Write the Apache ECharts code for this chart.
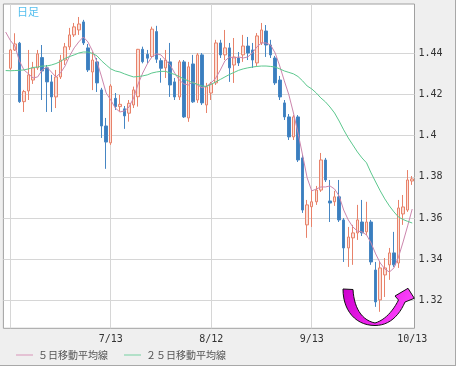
<!DOCTYPE html>
<html>
<head>
<meta charset="utf-8">
<script src="https://cdn.jsdelivr.net/npm/echarts@6/dist/echarts.min.js"></script>
<style>html,body{margin:0;padding:0;background:#fff;}#c{width:458px;height:370px;}</style>
</head>
<body>
<div id="c"></div>
<script>
const dates = ['6/10','6/13','6/14','6/15','6/16','6/17','6/20','6/21','6/22','6/23','6/24','6/27','6/28','6/29','6/30',
'7/1','7/4','7/5','7/6','7/7','7/8','7/11','7/12','7/13','7/14','7/15','7/18','7/19','7/20','7/21','7/22','7/25','7/26','7/27','7/28','7/29',
'8/1','8/2','8/3','8/4','8/5','8/8','8/9','8/10','8/11','8/12','8/15','8/16','8/17','8/18','8/19','8/22','8/23','8/24','8/25','8/26','8/29','8/30','8/31',
'9/1','9/2','9/5','9/6','9/7','9/8','9/9','9/12','9/13','9/14','9/15','9/16','9/19','9/20','9/21','9/22','9/23','9/26','9/27','9/28','9/29','9/30',
'10/3','10/4','10/5','10/6','10/7','10/10','10/11','10/12','10/13'];

const opens = [null,
1.4327,1.4416,1.4449,1.4165,1.4217,1.4270,1.4329,1.4379,1.4329,1.4261,
1.4188,1.4285,1.4367,1.4431,1.4489,1.4513,1.4552,1.4426,1.4309,1.4358,
1.4222,1.4047,1.3965,1.4181,1.4141,1.4130,1.4109,1.4149,1.4189,1.4419,
1.4395,1.4384,1.4505,1.4364,1.4329,1.4358,1.4261,1.4188,1.4358,1.4086,
1.4348,1.4173,1.4392,1.4149,1.4207,1.4256,1.4450,1.4392,1.4426,1.4343,
1.4377,1.4392,1.4435,1.4416,1.4353,1.4450,1.4508,1.4440,1.4377,1.4270,
1.4159,1.4091,1.3994,1.4091,1.3892,1.3567,1.3655,1.3679,1.3736,1.3882,
1.3683,1.3679,1.3703,1.3591,1.3455,1.3504,1.3528,1.3581,1.3533,1.3581,
1.3348,1.3203,1.3324,1.3373,1.3431,1.3382,1.3620,1.3639,1.3780];

const closes = [null,
1.4416,1.4445,1.4165,1.4214,1.4295,1.4329,1.4397,1.4314,1.4261,1.4188,
1.4285,1.4367,1.4431,1.4489,1.4528,1.4542,1.4450,1.4319,1.4367,1.4256,
1.4047,1.3969,1.4241,1.4141,1.4152,1.4096,1.4157,1.4222,1.4419,1.4359,
1.4376,1.4517,1.4371,1.4327,1.4367,1.4246,1.4188,1.4358,1.4091,1.4334,
1.4164,1.4392,1.4159,1.4237,1.4251,1.4450,1.4392,1.4426,1.4329,1.4382,
1.4353,1.4435,1.4401,1.4367,1.4484,1.4513,1.4440,1.4392,1.4256,1.4188,
1.4091,1.3994,1.4091,1.3882,1.3639,1.3664,1.3679,1.3736,1.3882,1.3785,
1.3673,1.3703,1.3591,1.3455,1.3508,1.3528,1.3591,1.3528,1.3581,1.3387,
1.3193,1.3358,1.3358,1.3431,1.3373,1.3649,1.3654,1.3785,1.3790];

const lows = [null,
1.4319,1.4411,1.4159,1.4115,1.4173,1.4251,1.4319,1.4173,1.4115,1.4115,
1.4134,1.4275,1.4343,1.4416,1.4479,1.4489,1.4440,1.4309,1.4221,1.4212,
1.3989,1.3839,1.3955,1.4125,1.4117,1.4033,1.4068,1.4134,1.4141,1.4351,
1.4351,1.4377,1.4353,1.4257,1.4280,1.4188,1.4173,1.4173,1.4086,1.4067,
1.4159,1.4159,1.4149,1.4110,1.4173,1.4246,1.4377,1.4367,1.4261,1.4256,
1.4338,1.4358,1.4367,1.4329,1.4338,1.4440,1.4382,1.4377,1.4246,1.4173,
1.4076,1.3979,1.3979,1.3872,1.3625,1.3504,1.3557,1.3664,1.3727,1.3775,
1.3581,1.3659,1.3581,1.3387,1.3363,1.3373,1.3494,1.3513,1.3518,1.3373,
1.3169,1.3145,1.3217,1.3300,1.3363,1.3358,1.3567,1.3630,1.3761];

const highs = [null,
1.4421,1.4497,1.4455,1.4222,1.4416,1.4358,1.4416,1.4440,1.4343,1.4295,
1.4319,1.4392,1.4450,1.4523,1.4547,1.4576,1.4562,1.4445,1.4406,1.4377,
1.4232,1.4086,1.4250,1.4207,1.4198,1.4144,1.4173,1.4238,1.4421,1.4432,
1.4416,1.4529,1.4533,1.4376,1.4416,1.4450,1.4280,1.4367,1.4367,1.4358,
1.4392,1.4401,1.4401,1.4256,1.4261,1.4465,1.4465,1.4513,1.4450,1.4474,
1.4406,1.4489,1.4479,1.4450,1.4498,1.4547,1.4537,1.4465,1.4387,1.4290,
1.4173,1.4105,1.4100,1.4100,1.3906,1.3688,1.3736,1.3756,1.3916,1.3892,
1.3785,1.3732,1.3785,1.3600,1.3557,1.3567,1.3664,1.3688,1.3679,1.3591,
1.3387,1.3387,1.3406,1.3455,1.3533,1.3688,1.3712,1.3833,1.3804];

const ma5 = [1.4503,
1.4463,1.4435,1.4363,1.4319,1.4300,1.4280,1.4285,1.4319,1.4333,1.4309,
1.4285,1.4304,1.4338,1.4387,1.4426,1.4455,1.4479,1.4455,1.4411,1.4358,
1.4285,1.4207,1.4173,1.4134,1.4115,1.4120,1.4139,1.4183,1.4251,1.4304,
1.4348,1.4382,1.4397,1.4392,1.4367,1.4343,1.4304,1.4270,1.4251,1.4246,
1.4261,1.4246,1.4232,1.4241,1.4256,1.4280,1.4319,1.4363,1.4382,1.4377,
1.4382,1.4377,1.4382,1.4401,1.4431,1.4450,1.4450,1.4440,1.4401,1.4338,
1.4266,1.4198,1.4110,1.4013,1.3906,1.3795,1.3732,1.3741,1.3751,1.3751,
1.3756,1.3741,1.3707,1.3639,1.3591,1.3557,1.3537,1.3533,1.3518,1.3479,
1.3426,1.3382,1.3353,1.3338,1.3358,1.3411,1.3484,1.3562,1.3644];

const ma25 = [1.4316,
1.4315,1.4316,1.4317,1.4319,1.4324,1.4331,1.4333,1.4338,1.4338,1.4343,
1.4350,1.4360,1.4375,1.4384,1.4392,1.4401,1.4406,1.4406,1.4399,1.4387,
1.4363,1.4343,1.4324,1.4314,1.4309,1.4300,1.4292,1.4285,1.4287,1.4290,
1.4295,1.4304,1.4309,1.4312,1.4312,1.4304,1.4297,1.4287,1.4275,1.4266,
1.4256,1.4249,1.4241,1.4239,1.4249,1.4261,1.4273,1.4285,1.4297,1.4307,
1.4317,1.4324,1.4329,1.4333,1.4336,1.4338,1.4338,1.4336,1.4333,1.4324,
1.4314,1.4307,1.4300,1.4287,1.4266,1.4241,1.4227,1.4207,1.4183,1.4164,
1.4139,1.4110,1.4071,1.4028,1.3989,1.3955,1.3921,1.3892,1.3868,1.3819,
1.3775,1.3732,1.3693,1.3659,1.3630,1.3605,1.3593,1.3584,1.3576];

const xTickLabels = ['7/13','8/12','9/13','10/13'];
const xGridDates = ['6/13','7/13','8/12','9/13'];
const yTickValues = [1.32,1.34,1.36,1.38,1.40,1.42,1.44];
const yTickLabels = ['1.32','1.34','1.36','1.38','1.4','1.42','1.44'];
const seriesNames = ['５日移動平均線','２５日移動平均線'];
const chartTitle = '日足';

const candleData = dates.map((d, k) => opens[k] == null ? ['-','-','-','-'] : [opens[k], closes[k], lows[k], highs[k]]);

// decorative curved arrow outline (annotation, pixel space)
function bez(p0, p1, p2, p3, n) {
  const out = [];
  for (let s = 1; s <= n; s++) {
    const t = s / n, u = 1 - t;
    out.push([
      u*u*u*p0[0] + 3*u*u*t*p1[0] + 3*u*t*t*p2[0] + t*t*t*p3[0],
      u*u*u*p0[1] + 3*u*u*t*p1[1] + 3*u*t*t*p2[1] + t*t*t*p3[1]
    ]);
  }
  return out;
}
const arrowPts = [[343,289],[353,289.5]]
  .concat(bez([353,289.5],[354,307],[361,320],[375,323],14))
  .concat(bez([375,323],[385,320],[393,311],[398.5,300],12))
  .concat([[395,296],[408,288.3],[414.3,298.3],[405,302]])
  .concat(bez([405,302],[399,316],[389,325.5],[375,325.5],12))
  .concat(bez([375,325.5],[356,325.5],[343,311],[343,289],14));

const monoFont = 'DejaVu Sans Mono';
const gridLineStyle = {color: '#d6d6d6', width: 1, type: 'solid'};

const chart = echarts.init(document.getElementById('c'), null, {renderer: 'canvas'});
chart.setOption({
  animation: false,
  backgroundColor: '#efefef',
  title: {text: chartTitle, left: 17, top: 6, padding: 0, textStyle: {fontSize: 11, fontWeight: 'normal', color: '#55bfee', fontFamily: 'Noto Sans CJK JP'}},
  legend: {
    data: seriesNames, left: 16, top: 350, padding: 0, icon: 'rect', itemWidth: 17, itemHeight: 1, itemGap: 16,
    selectedMode: false,
    textStyle: {fontSize: 10, color: '#555', fontFamily: 'Noto Sans CJK JP'}
  },
  grid: {left: 3.4, right: 43.5, top: 4, bottom: 41.7, show: true, backgroundColor: '#ffffff', borderColor: '#a0a0a0', borderWidth: 1},
  xAxis: {
    type: 'category', data: dates, boundaryGap: true,
    axisLine: {show: false}, axisTick: {show: false}, splitLine: {show: false},
    axisLabel: {
      interval: (idx, val) => xTickLabels.indexOf(val) >= 0,
      fontFamily: monoFont, fontSize: 10, color: '#333', margin: 6
    }
  },
  yAxis: {
    type: 'value', position: 'right', min: 1.3065, max: 1.4639, scale: true,
    axisLine: {show: false}, axisTick: {show: false}, axisLabel: {show: false}, splitLine: {show: false}
  },
  graphic: [
    {type: 'rect', z: 100, shape: {x: 456, y: 0, width: 4, height: 370}, style: {fill: '#ffffff'}},
    {type: 'rect', z: 100, shape: {x: 0, y: 366, width: 460, height: 6}, style: {fill: '#ffffff'}},
    {type: 'line', z: 100, shape: {x1: 455.5, y1: 0, x2: 455.5, y2: 366}, style: {stroke: '#a8a8a8', lineWidth: 1}},
    {type: 'line', z: 100, shape: {x1: 0, y1: 365.5, x2: 456, y2: 365.5}, style: {stroke: '#a8a8a8', lineWidth: 1}},
    {
      type: 'polygon', z: 100,
      shape: {points: arrowPts},
      style: {
        fill: {type: 'linear', x: 0, y: 0, x2: 1, y2: 1, colorStops: [
          {offset: 0, color: '#cc00cc'}, {offset: 0.5, color: '#ee22ee'}, {offset: 1, color: '#ff55ff'}
        ]},
        stroke: '#111', lineWidth: 1
      }
    }
  ],
  series: [
    {
      name: chartTitle, type: 'candlestick', data: candleData, barWidth: 3, z: 2,
      itemStyle: {color: '#fbe0d8', color0: '#3a7ebf', borderColor: '#e8826a', borderColor0: '#4686c3', borderWidth: 1},
      markLine: {
        z: 1, silent: true, symbol: 'none', animation: false,
        lineStyle: gridLineStyle,
        label: {show: false},
        data: yTickValues.map((v, k) => ({
          yAxis: v,
          label: {show: true, position: 'end', distance: 4, formatter: yTickLabels[k], fontFamily: monoFont, fontSize: 10, color: '#333'}
        })).concat(xGridDates.map(d => ({xAxis: d})))
      }
    },
    {name: seriesNames[0], type: 'line', data: ma5, showSymbol: false, symbol: 'none', z: 3, lineStyle: {color: '#cc86ad', width: 1}, itemStyle: {color: '#d994b8'}},
    {name: seriesNames[1], type: 'line', data: ma25, showSymbol: false, symbol: 'none', z: 3, lineStyle: {color: '#5cc88e', width: 1}, itemStyle: {color: '#74d0a0'}}
  ]
});
</script>
</body>
</html>
